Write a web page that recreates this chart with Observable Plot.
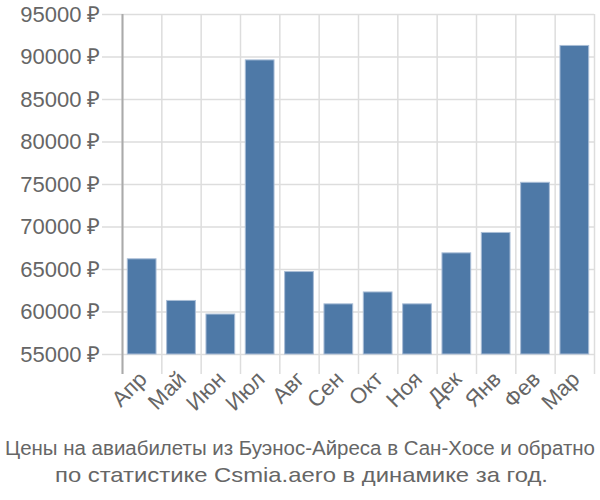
<!DOCTYPE html>
<html>
<head>
<meta charset="utf-8">
<script src="https://cdn.jsdelivr.net/npm/d3@7"></script>
<script src="https://cdn.jsdelivr.net/npm/@observablehq/plot@0.6"></script>
<style>
  body { margin: 0; background: #fff; font-family: "Liberation Sans", Arial, sans-serif; }
  #chart { width: 600px; height: 420px; }
  #cap { display: block; }
</style>
</head>
<body>
<div id="chart"></div>
<svg id="cap" width="600" height="80" font-family="Liberation Sans, Arial, sans-serif" fill="#666" font-size="21">
  <text x="300" y="35" text-anchor="middle" font-size="20" textLength="590" lengthAdjust="spacingAndGlyphs">Цены на авиабилеты из Буэнос-Айреса в Сан-Хосе и обратно</text>
  <text x="301.5" y="62" text-anchor="middle" textLength="493" lengthAdjust="spacingAndGlyphs">по статистике Csmia.aero в динамике за год.</text>
</svg>
<script>
const months = ["Апр", "Май", "Июн", "Июл", "Авг", "Сен", "Окт", "Ноя", "Дек", "Янв", "Фев", "Мар"];
const prices = [66200, 61300, 59700, 89600, 64700, 60900, 62300, 60900, 66900, 69300, 75200, 91300];
const yTicks = [55000, 60000, 65000, 70000, 75000, 80000, 85000, 90000, 95000];
const baseline = 55000;

const data = months.map((m, i) => ({month: m, i, price: prices[i]}));
const bounds = d3.range(months.length + 1);

const chart = Plot.plot({
  width: 600,
  height: 420,
  marginTop: 14,
  marginBottom: 66,
  marginLeft: 122,
  marginRight: 6,
  style: {fontFamily: "Liberation Sans, Arial, sans-serif", background: "#fff"},
  x: {type: "linear", domain: [0, months.length], axis: null},
  y: {domain: [55000, 95000], axis: null},
  marks: [
    Plot.ruleY(yTicks, {stroke: "#ddd", strokeWidth: 1.5, insetLeft: -20}),
    Plot.ruleX(bounds, {y1: 95000, y2: 55000, stroke: "#ddd", strokeWidth: 1.5, insetBottom: -20}),
    Plot.rectY(data, {x1: d => d.i, x2: d => d.i + 1, y1: baseline, y2: "price", fill: "#4e79a7", stroke: "#a9bdd6", strokeWidth: 1, insetLeft: 5.3, insetRight: 5.3}),
    Plot.ruleX([0], {y1: 95000, y2: 55000, stroke: "#aaa", strokeWidth: 2, insetBottom: -20}),
    Plot.text(yTicks, {x: 0, y: d => d, text: d => d + " ₽", textAnchor: "end", dx: -22, fill: "#666", fontSize: 22}),
    Plot.text(data, {x: d => d.i + 0.5, y: baseline, text: "month", rotate: -45, textAnchor: "end", dx: 1, dy: 21, fill: "#666", fontSize: 22})
  ]
});
document.getElementById("chart").appendChild(chart);
</script>
</body>
</html>
